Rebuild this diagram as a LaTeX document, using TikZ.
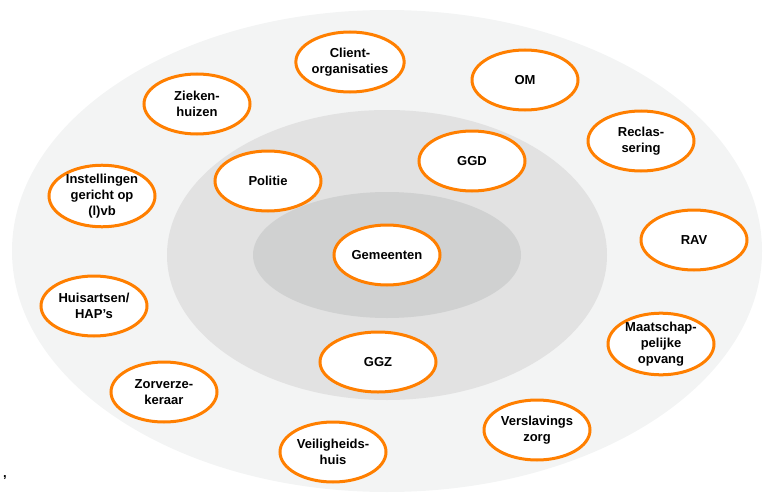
\documentclass[tikz,border=0pt]{standalone}
\usepackage{fontspec}
\setmainfont{Liberation Sans}
\usepackage{xcolor}
\usetikzlibrary{shapes.geometric}
\def\outerring{ (387,251) ellipse (375 and 241)}
\def\middlering{(387,255) ellipse (220 and 145)}
\def\innerring{ (387,255) ellipse (134 and 63)}
\definecolor{ring outer}{HTML}{F3F4F4}
\definecolor{ring middle}{HTML}{E2E2E2}
\definecolor{ring inner}{HTML}{D0D1D1}
\definecolor{partner edge}{HTML}{FF7F00}
\tikzset{partner/.style={ellipse, draw=partner edge, line width=3pt, fill=white,
        minimum width=106pt, minimum height=60pt, inner sep=0pt, align=center,
        font=\fontsize{13}{15.7}\selectfont\bfseries},
    ring/.style={draw=none}}

\begin{document}
\begin{tikzpicture}[x=1pt, y=-1pt]
    \useasboundingbox (0,0) rectangle (768,495);
    \fill[ring, ring outer]  \outerring;
    \fill[ring, ring middle] \middlering;
    \fill[ring, ring inner]  \innerring;
    % kern
    \node[partner] (gemeenten) at (387,255) {Gemeenten};
    % tweede ring
    \node[partner] (politie) at (268,181) {Politie};
    \node[partner] (ggd)     at (472,161) {GGD};
    \node[partner, minimum width=116pt] (ggz) at (378,362) {GGZ};
    % buitenste ring
    \node[partner] (client)      at (350,62)  {Client-\\organisaties};
    \node[partner] (ziekenhuis)  at (197,104) {Zieken-\\huizen};
    \node[partner] (instelling)  at (102,196) {Instellingen\\gericht op\\(l)vb};
    \node[partner] (huisarts)    at (94,306)  {Huisartsen/\\HAP’s};
    \node[partner] (verzekeraar) at (164,392) {Zorverze-\\keraar};
    \node[partner] (veiligheid)  at (333,452) {Veiligheids-\\huis};
    \node[partner] (verslaving)  at (537,430) {Verslavings\\zorg};
    \node[partner] (opvang)      at (661,344) {Maatschap-\\pelijke\\opvang};
    \node[partner] (rav)         at (694,240) {RAV};
    \node[partner] (reclassering) at (641,141) {Reclas-\\sering};
    \node[partner] (om)          at (525,80)  {OM};
    \node[font=\fontsize{13}{15.7}\selectfont\bfseries] (komma) at (5,478) {,};
\end{tikzpicture}
\end{document}
